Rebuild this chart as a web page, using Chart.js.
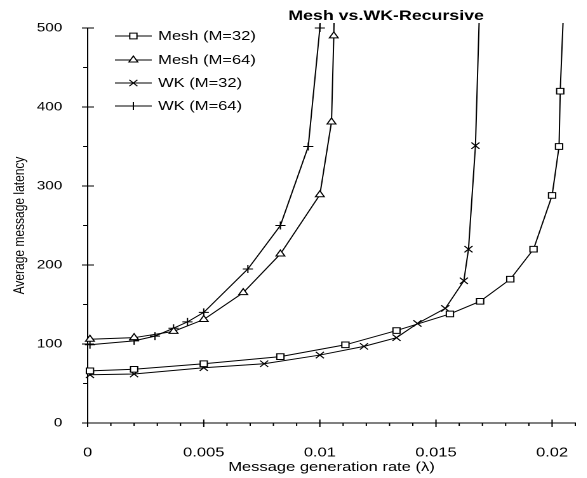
<!DOCTYPE html>
<html>
<head>
<meta charset="utf-8">
<script src="https://cdn.jsdelivr.net/npm/chart.js@4.4.1/dist/chart.umd.min.js"></script>
<style>
    html, body { margin: 0; padding: 0; background: #fff; overflow: hidden; }
    #wrap { width: 587px; height: 478px; overflow: hidden; }
    /* the source picture is stretched sideways, so the canvas is too */
    #latencyCanvas { display: block; transform: scaleX(1.27); transform-origin: 0 0; }
</style>
</head>
<body>
<div id="wrap"><canvas id="latencyCanvas" width="462" height="478"></canvas></div>
<script>
"use strict"

//Mesh (M=32)
const meshX32 = [0.0001, 0.002, 0.005, 0.0083, 0.0111, 0.0133, 0.0156, 0.0169, 0.0182, 0.0192, 0.0200, 0.0203, 0.02035, 0.0206];
const meshY32 = [66, 68, 75, 84, 99, 117, 138, 154, 182, 220, 288, 350, 420, 600];

//Mesh (M=64)
const meshX64 = [0.0001, 0.002, 0.0037, 0.005, 0.0067, 0.0083, 0.0100, 0.0105, 0.0106, 0.0107];
const meshY64 = [106, 108, 116, 131, 165, 214, 289, 381, 490, 650];

//WK (M=32)
const wkX32 = [0.0001, 0.002, 0.005, 0.0076, 0.0100, 0.0119, 0.0133, 0.0142, 0.0154, 0.0162, 0.0164, 0.0167, 0.0170];
const wkY32 = [61, 62, 70, 75, 86, 97, 108, 126, 145, 180, 220, 351, 650];

//WK (M=64)
const wkX64 = [0.0001, 0.002, 0.0029, 0.0037, 0.0043, 0.005, 0.0069, 0.0083, 0.0095, 0.0100, 0.0102];
const wkY64 = [99, 104, 110, 120, 128, 140, 195, 250, 350, 500, 650];

//Tick labels
const xTickValues = [0, 0.005, 0.01, 0.015, 0.02];
const yTickValues = [0, 100, 200, 300, 400, 500];

const FONT = '"Liberation Sans", Arial, sans-serif';


function toPoints(xs, ys) {
    return xs.map(function (x, i) { return { x: x, y: ys[i] }; });
};


function makeLine(label, xs, ys, style, radius) {
    return {
        label: label,
        data: toPoints(xs, ys),
        showLine: true,
        tension: 0,
        borderColor: "#000",
        backgroundColor: "#fff",
        borderWidth: 1,
        pointStyle: style,
        pointRadius: radius,
        pointHoverRadius: radius,
        pointBorderWidth: 1,
        pointBorderColor: "#000",
        pointBackgroundColor: "#fff",
        clip: { left: 5, top: 5, right: 5, bottom: 5 }
    };
};

const seriesLines = [
    makeLine('Mesh (M=32)', meshX32, meshY32, 'rect', 4),
    makeLine('Mesh (M=64)', meshX64, meshY64, 'triangle', 4),
    makeLine('WK (M=32)', wkX32, wkY32, 'crossRot', 4.5),
    makeLine('WK (M=64)', wkX64, wkY64, 'cross', 4)
];


//Tick marks, legend and title drawn on top
const extrasPlugin = {
    id: 'extras',
    afterDraw(chart) {
        const ctx = chart.ctx;
        const xs = chart.scales.x;
        const ys = chart.scales.y;
        const area = chart.chartArea;

        ctx.save();
        ctx.strokeStyle = "#000";
        ctx.lineWidth = 1;
        ctx.beginPath();

        //x ticks every 0.001, long ones at 0.005
        for (let i = 0; i <= 21; i++) {
            const px = xs.getPixelForValue(i * 0.001);
            if (i % 5 == 0) {
                ctx.moveTo(px, area.bottom - 3.5);
                ctx.lineTo(px, area.bottom + 4);
            } else {
                ctx.moveTo(px, area.bottom);
                ctx.lineTo(px, area.bottom + 3);
            }
        }

        //y ticks every 50, long ones at 100
        for (let v = 0; v <= 500; v += 50) {
            const py = ys.getPixelForValue(v);
            if (v % 100 == 0) {
                ctx.moveTo(area.left - 4.5, py);
                ctx.lineTo(area.left + 5, py);
            } else {
                ctx.moveTo(area.left - 3.5, py);
                ctx.lineTo(area.left, py);
            }
        }
        ctx.stroke();

        //legend
        ctx.font = '13px ' + FONT;
        ctx.textBaseline = 'middle';
        ctx.textAlign = 'left';
        ctx.fillStyle = "#000";
        const rowY = [36, 60, 83, 106];
        chart.data.datasets.forEach(function (ds, i) {
            const y = rowY[i];
            ctx.beginPath();
            ctx.moveTo(90.5, y);
            ctx.lineTo(119.5, y);
            ctx.stroke();
            ctx.fillStyle = "#fff";
            Chart.helpers.drawPoint(ctx, {
                pointStyle: ds.pointStyle,
                radius: ds.pointRadius,
                rotation: 0,
                borderWidth: 1
            }, 105, y);
            ctx.fillStyle = "#000";
            ctx.fillText(ds.label, 124.5, y + 0.5);
        });

        //title
        ctx.font = 'bold 14px ' + FONT;
        ctx.textAlign = 'center';
        ctx.fillText('Mesh vs.WK-Recursive', 304, 16);
        ctx.restore();
    }
};


const config = {
    type: 'scatter',
    data: { datasets: seriesLines },
    options: {
        responsive: false,
        animation: false,
        devicePixelRatio: 2,
        layout: { padding: { top: 28, right: 9, left: 0, bottom: 0 } },
        plugins: {
            legend: { display: false },
            tooltip: { enabled: false },
            title: { display: false }
        },
        scales: {
            x: {
                type: 'linear',
                min: 0,
                max: 0.021,
                grid: { display: false },
                border: { display: true, color: "#000", width: 1 },
                afterBuildTicks: function (s) {
                    s.ticks = xTickValues.map(function (v) { return { value: v }; });
                },
                afterFit: function (s) { s.height = 55; },
                ticks: {
                    color: "#000",
                    padding: 14,
                    maxRotation: 0,
                    font: { family: FONT, size: 13 },
                    callback: function (v) { return String(+v.toFixed(3)); }
                },
                title: {
                    display: true,
                    text: 'Message generation rate (λ)',
                    color: "#000",
                    font: { family: FONT, size: 13 },
                    padding: { top: 0, bottom: 3 }
                }
            },
            y: {
                type: 'linear',
                min: 0,
                max: 500,
                grid: { display: false },
                border: { display: true, color: "#000", width: 1 },
                afterBuildTicks: function (s) {
                    s.ticks = yTickValues.map(function (v) { return { value: v }; });
                },
                afterFit: function (s) { s.width = 69; },
                ticks: {
                    color: "#000",
                    padding: 12,
                    font: { family: FONT, size: 12 }
                },
                title: {
                    display: true,
                    text: 'Average message latency',
                    color: "#000",
                    font: { family: FONT, size: 12 },
                    padding: { top: 8.5, bottom: 0 }
                }
            }
        }
    },
    plugins: [extrasPlugin]
};

const latencyChart = new Chart(
    document.getElementById('latencyCanvas'),
    config
);
</script>
</body>
</html>
